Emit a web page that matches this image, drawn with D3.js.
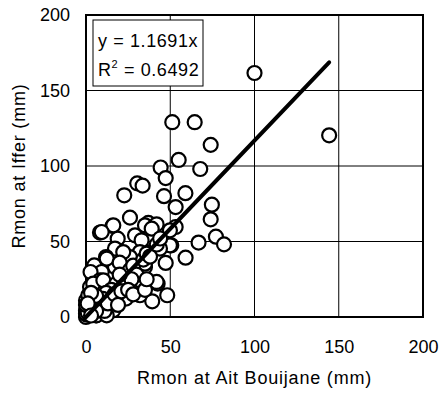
<!DOCTYPE html>
<html>
<head>
<meta charset="utf-8">
<script src="https://cdn.jsdelivr.net/npm/d3@7"></script>
<style>
  body { margin: 0; background: #fff; }
  text { font-family: "Liberation Sans", Arial, sans-serif; fill: #000; }
</style>
</head>
<body>
<div id="chart"></div>
<script>
// monthly rainfall pairs (mm)
var xVals = [100, 144.3, 51.2, 64.5, 74, 55, 44.3, 67.8, 47.3, 30.4, 33.6, 22.7, 46.3, 59, 53.2, 74.7,
  74, 53.2, 77.1, 81.9, 66.8, 59.1, 50.6, 47.3, 48.2, 42.5, 39.3, 26.1, 15.8, 18.8, 8.3, 39,
  37, 29.1, 33, 41.9, 17.2, 11.9, 4.9, 17.2, 9.3, 2.7, 8.3, 24.1, 30.1, 33, 32, 23.7,
  31, 14.2, 21.2, 2.4, 2.4, 0, 0, 3.5, 9.5, 14.2, 5.9, 0, 0.5, 16.2, 8.3, 1.4,
  23.1, 35, 31, 41.9, 16.2, 9.3, 49.8, 35, 39, 49.8, 12.3, 27.1, 20.2, 32, 9.3, 14.2,
  1.4, 4.3, 10.3, 3.4, 9.3, 16.2, 0, 6.3, 12.3, 24.1, 35, 38, 43.9, 32, 26.1, 22.1,
  20, 18, 22, 26, 28, 30, 34, 36, 38, 42, 44, 27, 20, 15, 12, 10,
  7, 5, 4, 2, 1, 6, 3, 0, 11, 13, 17, 19, 21, 25, 28, 35, 36, 6, 1, 3];
var yVals = [161.6, 120.3, 129, 129, 114, 104, 99, 98, 92, 88.5, 87, 80.6, 80, 82, 72.8, 74.4,
  64.7, 59.6, 53.2, 48.1, 49.3, 39.3, 47.5, 35.8, 14.4, 22.1, 10.4, 65.8, 60.3, 51.9, 55.9, 59.6,
  62.3, 54.1, 50.8, 61.4, 45.3, 39.7, 34.2, 33.1, 29.8, 29.8, 24.3, 33.1, 37.5, 29.1, 14.4, 12.2,
  22.1, 20.3, 25.4, 19.9, 13.3, 11, 4.2, 6.8, 10.8, 5.3, 1.1, 0, 1.5, 11, 8.9, 6.6,
  23.2, 33.1, 18.8, 23.2, 60.7, 56.3, 57.4, 60.7, 58.5, 47.5, 38.7, 29.8, 24.3, 24.3, 17.7, 14.4,
  14.4, 22.1, 24.3, 7.7, 6.6, 4.4, 2.2, 1.1, 1.1, 19.9, 35.3, 43, 45.3, 43, 39.7, 43,
  36, 22, 26, 31, 34, 28, 38, 42, 40, 48, 52, 25, 28, 18, 16, 12,
  8, 10, 4, 2, 3, 14, 16, 8, 4, 9, 15, 8, 17, 18, 15, 18, 25, 4, 9, 1];
var xTicks = [0, 50, 100, 150, 200];
var yTicks = [0, 50, 100, 150, 200];
var slope = 1.1691;
var eqLine = "y = 1.1691x";
var r2Label = "0.6492";

var W = 441, H = 396;
var m = {left: 86, right: 18, top: 15, bottom: 79};

var svg = d3.select("#chart").append("svg").attr("width", W).attr("height", H);

var x = d3.scaleLinear().domain([0, 200]).range([m.left, W - m.right]);
var y = d3.scaleLinear().domain([0, 200]).range([H - m.bottom, m.top]);

// grid
svg.append("g").selectAll("line").data(xTicks.slice(1, -1)).enter().append("line")
  .attr("x1", d => x(d)).attr("x2", d => x(d))
  .attr("y1", y(200)).attr("y2", y(0))
  .attr("stroke", "#000").attr("stroke-width", 1);
svg.append("g").selectAll("line").data(yTicks.slice(1, -1)).enter().append("line")
  .attr("x1", x(0)).attr("x2", x(200))
  .attr("y1", d => y(d)).attr("y2", d => y(d))
  .attr("stroke", "#000").attr("stroke-width", 1);

// axes (labels only)
var xAxis = svg.append("g").attr("transform", "translate(0," + y(0) + ")")
  .call(d3.axisBottom(x).tickValues(xTicks).tickSize(0).tickPadding(23));
var yAxis = svg.append("g").attr("transform", "translate(" + x(0) + ",0)")
  .call(d3.axisLeft(y).tickValues(yTicks).tickSize(0).tickPadding(16));
[xAxis, yAxis].forEach(function (a) {
  a.select(".domain").remove();
  a.selectAll("text").style("font-size", "18px").style("font-family", "Liberation Sans, Arial, sans-serif");
});

// plot frame
svg.append("rect")
  .attr("x", x(0)).attr("y", y(200))
  .attr("width", x(200) - x(0)).attr("height", y(0) - y(200))
  .attr("fill", "none").attr("stroke", "#000").attr("stroke-width", 2);

// points
var pts = xVals.map((d, i) => [d, yVals[i]]);
svg.append("g").selectAll("circle").data(pts).enter().append("circle")
  .attr("cx", d => x(d[0])).attr("cy", d => y(d[1])).attr("r", 7)
  .attr("fill", "#fff").attr("stroke", "#000").attr("stroke-width", 2.2);

// trend line through origin
var xmax = d3.max(xVals);
svg.append("line")
  .attr("x1", x(0)).attr("y1", y(0))
  .attr("x2", x(xmax)).attr("y2", y(slope * xmax))
  .attr("stroke", "#000").attr("stroke-width", 4).attr("stroke-linecap", "round");

// equation box
svg.append("rect").attr("x", 93).attr("y", 20).attr("width", 110).attr("height", 66)
  .attr("fill", "#fff").attr("stroke", "#000").attr("stroke-width", 1);
svg.append("text").attr("x", 98).attr("y", 47).style("font-size", "18px")
  .style("letter-spacing", "0.6px").text(eqLine);
var r2 = svg.append("text").attr("x", 98).attr("y", 76).style("font-size", "18px")
  .style("letter-spacing", "0.6px");
r2.append("tspan").text("R");
r2.append("tspan").attr("dy", -8).style("font-size", "11px").text("2");
r2.append("tspan").attr("dy", 8).text(" = " + r2Label);

// axis titles
svg.append("text").attr("x", (x(0) + x(200)) / 2).attr("y", 384)
  .attr("text-anchor", "middle").style("font-size", "18px").style("letter-spacing", "0.8px")
  .text("Rmon at Ait Bouijane (mm)");
svg.append("text").attr("transform", "translate(25," + (y(0) + y(200)) / 2 + ") rotate(-90)")
  .attr("text-anchor", "middle").style("font-size", "18px").style("letter-spacing", "0.8px")
  .text("Rmon at Iffer (mm)");
</script>
</body>
</html>
